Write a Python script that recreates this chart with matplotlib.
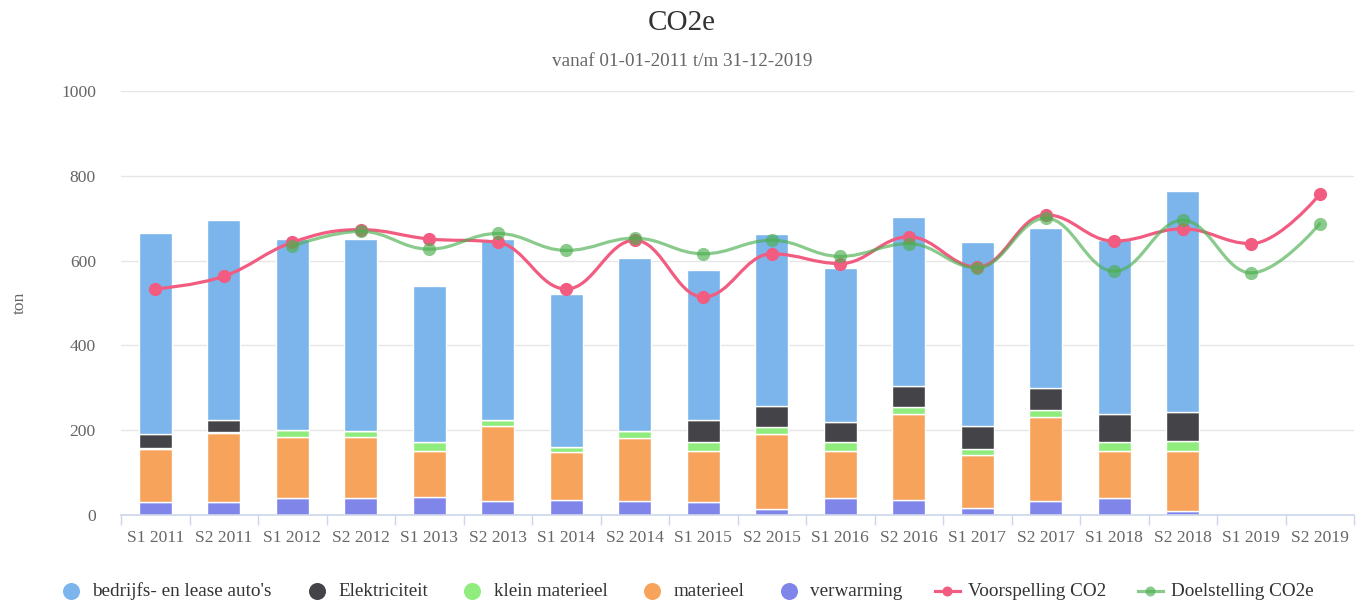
import numpy as np
import matplotlib
matplotlib.use("Agg")
import matplotlib.pyplot as plt
from matplotlib.path import Path
from matplotlib.patches import PathPatch
from matplotlib.lines import Line2D

plt.rcParams['font.family'] = ['Liberation Serif', 'DejaVu Serif']

categories = ["S1 2011", "S2 2011", "S1 2012", "S2 2012", "S1 2013", "S2 2013",
              "S1 2014", "S2 2014", "S1 2015", "S2 2015", "S1 2016", "S2 2016",
              "S1 2017", "S2 2017", "S1 2018", "S2 2018", "S1 2019", "S2 2019"]

verwarming = [30, 30, 40, 40, 43, 32, 36, 32, 30, 13, 40, 36, 17, 32, 40, 9, 0, 0]
materieel = [126, 164, 143, 143, 109, 177, 112, 150, 122, 177, 112, 203, 125, 199, 112, 143, 0, 0]
klein_materieel = [1, 1, 18, 14, 19, 15, 12, 15, 19, 18, 19, 15, 13, 16, 19, 22, 0, 0]
elektriciteit = [33, 29, 0, 1, 1, 0, 1, 0, 53, 50, 49, 50, 54, 53, 68, 69, 0, 0]
bedrijfs_lease = [475, 472, 449, 452, 369, 426, 360, 408, 355, 405, 363, 399, 435, 377, 410, 520, 0, 0]

voorspelling = [533, 563, 643, 673, 651, 643, 533, 648, 514, 616, 593, 656, 585, 708, 646, 675, 640, 756]
doelstelling = [None, None, 634, 669, 627, 664, 624, 653, 616, 648, 610, 640, 583, 700, 575, 695, 571, 687]

y_ticks = [0, 200, 400, 600, 800, 1000]

bar_series = [
    ("verwarming", verwarming, "#8085e9"),
    ("materieel", materieel, "#f7a35c"),
    ("klein materieel", klein_materieel, "#90ed7d"),
    ("Elektriciteit", elektriciteit, "#434348"),
    ("bedrijfs- en lease auto's", bedrijfs_lease, "#7cb5ec"),
]


def hc_spline(xs, ys, smoothing=1.5):
    pts = list(zip(xs, ys))
    n = len(pts)
    lc = [None] * n
    rc = [None] * n
    for i in range(1, n - 1):
        lx, ly = pts[i - 1]
        px, py = pts[i]
        nx, ny = pts[i + 1]
        d = smoothing + 1
        lcx = (smoothing * px + lx) / d
        lcy = (smoothing * py + ly) / d
        rcx = (smoothing * px + nx) / d
        rcy = (smoothing * py + ny) / d
        if rcx != lcx:
            corr = ((rcy - lcy) * (rcx - px)) / (rcx - lcx) + py - rcy
            lcy += corr
            rcy += corr
        if lcy > ly and lcy > py:
            lcy = max(ly, py); rcy = 2 * py - lcy
        elif lcy < ly and lcy < py:
            lcy = min(ly, py); rcy = 2 * py - lcy
        if rcy > ny and rcy > py:
            rcy = max(ny, py); lcy = 2 * py - rcy
        elif rcy < ny and rcy < py:
            rcy = min(ny, py); lcy = 2 * py - rcy
        lc[i] = (lcx, lcy)
        rc[i] = (rcx, rcy)
    verts = [pts[0]]
    codes = [Path.MOVETO]
    for i in range(1, n):
        c1 = rc[i - 1] if rc[i - 1] is not None else pts[i - 1]
        c2 = lc[i] if lc[i] is not None else pts[i]
        verts += [c1, c2, pts[i]]
        codes += [Path.CURVE4] * 3
    return Path(verts, codes)


W, H = 1364, 604
fig = plt.figure(figsize=(W / 100, H / 100), dpi=100)
ax = fig.add_axes([121 / W, 1 - 515 / H, (1354 - 121) / W, (515 - 91) / H])

x = np.arange(len(categories))
bottom = np.zeros(len(categories))
for name, vals, col in bar_series:
    v = np.array(vals, dtype=float)
    ax.bar(x, v, width=0.48, bottom=bottom, color=col, edgecolor="white",
           linewidth=1.0, zorder=2)
    bottom += v

# lines
line_defs = [
    ("Voorspelling CO2", voorspelling, "#f15c80", 1.0, 4),
    ("Doelstelling CO2e", doelstelling, "#4caf50", 0.65, 5),
]
for name, vals, col, alpha, z in line_defs:
    xs = [xi for xi, v in zip(x, vals) if v is not None]
    ys = [v for v in vals if v is not None]
    path = hc_spline(xs, ys)
    ax.add_patch(PathPatch(path, facecolor="none", edgecolor=col, lw=2.3,
                           alpha=alpha, zorder=z, capstyle="round"))
    ax.plot(xs, ys, linestyle="none", marker="o", markersize=9.5,
            color=col, alpha=alpha, markeredgewidth=0, zorder=z)

ax.set_xlim(-0.5, len(categories) - 0.5)
ax.set_ylim(0, 1000)
ax.set_yticks(y_ticks)
ax.set_yticklabels([str(t) for t in y_ticks], fontsize=12.6, color="#666666")
ax.set_xticks(x)
ax.set_xticklabels(categories, fontsize=12.6, color="#666666")
ax.set_xticks(np.arange(-0.5, len(categories)), minor=True)
ax.tick_params(axis="x", which="major", length=0, pad=11)
ax.tick_params(axis="x", which="minor", length=7.5, color="#ccd6eb", width=1)
ax.tick_params(axis="y", length=0, pad=18)
for sp in ["top", "right", "left"]:
    ax.spines[sp].set_visible(False)
ax.spines["bottom"].set_color("#ccd6eb")
ax.spines["bottom"].set_linewidth(1.2)
ax.grid(axis="y", color="#e6e6e6", linewidth=1, zorder=0)
ax.set_axisbelow(True)
ax.set_ylabel("ton", fontsize=12.6, color="#666666", labelpad=24)

fig.text(0.5, 1 - 23 / H, "CO2e", ha="center", va="center", fontsize=21, color="#333333")
fig.text(0.5, 1 - 61 / H, "vanaf 01-01-2011 t/m 31-12-2019", ha="center", va="center",
         fontsize=13.8, color="#666666")

# ---- manual legend (Highcharts-like layout) ----
legend_items = []
for name, vals, col in reversed(bar_series):
    legend_items.append(("circle", name, col, 1.0))
for name, vals, col, alpha, z in line_defs:
    legend_items.append(("line", name, col, alpha))

leg_y = 1 - 591 / H
fs = 13.8
renderer = fig.canvas.get_renderer()
texts = []
widths = []
for kind, name, col, alpha in legend_items:
    t = fig.text(0, leg_y, name, ha="left", va="center", fontsize=fs, color="#333333")
    texts.append(t)
    widths.append(t.get_window_extent(renderer).width)

CIRC_C, CIRC_TXT = 12.5, 34.0   # circle centre / text start offset from item start
LINE_W, LINE_TXT = 25, 33.0
GAP = 32
item_w = []
for (kind, *_), tw in zip(legend_items, widths):
    item_w.append((CIRC_TXT if kind == "circle" else LINE_TXT) + tw)
total = sum(item_w) + GAP * (len(item_w) - 1)
cur = 686 - total / 2
for (kind, name, col, alpha), t, tw, iw in zip(legend_items, texts, widths, item_w):
    if kind == "circle":
        fig.add_artist(Line2D([(cur + CIRC_C) / W], [leg_y], linestyle="none",
                              marker="o", markersize=17 / 1.389, color=col,
                              markeredgewidth=0, transform=fig.transFigure))
        t.set_x((cur + CIRC_TXT) / W)
    else:
        fig.add_artist(Line2D([cur / W, (cur + LINE_W) / W], [leg_y, leg_y], color=col,
                              lw=2.3, alpha=alpha, transform=fig.transFigure))
        fig.add_artist(Line2D([(cur + LINE_W / 2) / W], [leg_y], linestyle="none",
                              marker="o", markersize=7.2, color=col, alpha=alpha,
                              markeredgewidth=0, transform=fig.transFigure))
        t.set_x((cur + LINE_TXT) / W)
    cur += iw + GAP

fig.savefig("out.png", dpi=100)
